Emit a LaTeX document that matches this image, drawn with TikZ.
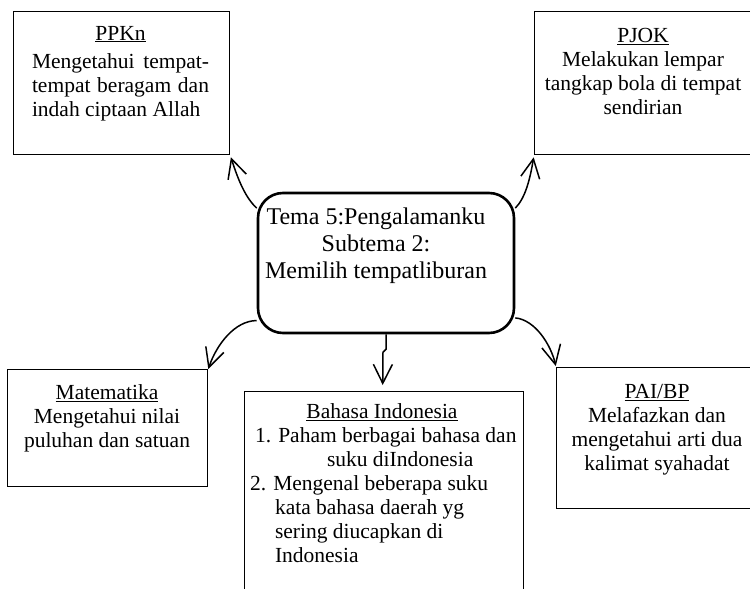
\documentclass[tikz,border=0pt]{standalone}
\usepackage{fontspec}
\setmainfont{Liberation Serif}
\usetikzlibrary{arrows.meta}

\begin{document}
\begin{tikzpicture}[x = 1pt, y = -1pt,
		kotak/.style = {draw, line width = 1.3pt, anchor = north west, inner sep = 0pt},
		isi/.style = {anchor = north, inner sep = 0pt, align = center, font = \fontsize{21.5}{24}\selectfont},
		panah/.style = {line width = 1.5pt, -{Straight Barb[length = 19pt, width = 19pt, line width = 1.5pt]}}]
		\useasboundingbox (0,0) rectangle (750,589);
		\clip (0,0) rectangle (750,589);
		% tema di tengah
		\node [draw, line width = 2.6pt, rounded corners = 25pt, minimum width = 256pt, minimum height = 140pt] (tema) at (386,263) {};
		\node [isi, font = \fontsize{24}{27}\selectfont] (tema-isi) at (376,208) {Tema 5:Pengalamanku\\Subtema 2:\\Memilih tempatliburan};
		% kotak mata pelajaran
		\node [kotak, minimum width = 216pt, minimum height = 143pt] (ppkn) at (13,11) {};
		\node [kotak, minimum width = 218pt, minimum height = 143pt] (pjok) at (534,11) {};
		\node [kotak, minimum width = 200pt, minimum height = 117pt] (mat) at (7,369) {};
		\node [kotak, minimum width = 279pt, minimum height = 220pt] (bi) at (244,391) {};
		\node [kotak, minimum width = 202pt, minimum height = 141pt] (pai) at (556,367) {};
		\node [isi, text width = 177pt, align = justify] (ppkn-isi) at (120.5,26) {{\centering\underline{PPKn}\par}\vspace{4pt}Mengetahui tempat-\linebreak tempat beragam dan\linebreak indah ciptaan Allah};
		\node [isi] (pjok-isi) at (643,28) {\underline{PJOK}\\Melakukan lempar\\tangkap bola di tempat\\sendirian};
		\node [isi] (mat-isi) at (107,384) {\underline{Matematika}\\Mengetahui nilai\\puluhan dan satuan};
		\node [isi] (pai-isi) at (657,384) {\underline{PAI/BP}\\Melafazkan dan\\mengetahui arti dua\\kalimat syahadat};
		\node [isi, text width = 272pt, align = flush left] (bi-isi) at (382,403) {{\centering\underline{Bahasa Indonesia}\par}\hspace*{9pt}1. Paham berbagai bahasa dan\\\hspace*{81pt}suku diIndonesia\\\hspace*{4pt}2. Mengenal beberapa suku\\\hspace*{29pt}kata bahasa daerah yg\\\hspace*{29pt}sering diucapkan di\\\hspace*{29pt}Indonesia};
		% panah
		\draw [panah, shorten > = 2pt] (tema.157) .. controls +(-12,-11) and +(7,22) .. (ppkn.south east);
		\draw [panah, shorten > = 2pt] (tema.23) .. controls +(10,-10) and +(-4,24) .. (pjok.south west);
		\draw [panah] (tema.204) .. controls +(-22,0) and +(8,-24) .. (mat.north east);
		\draw [panah, shorten > = 1pt] (tema.337) .. controls +(20,2) and +(-5,-22) .. (pai.north west);
		\draw [panah, shorten > = 6pt] (tema.south) -- ++(0,15) -- ++(-3,3) -- ([xshift = -1.5pt]bi.north);
	\end{tikzpicture}
\end{document}
